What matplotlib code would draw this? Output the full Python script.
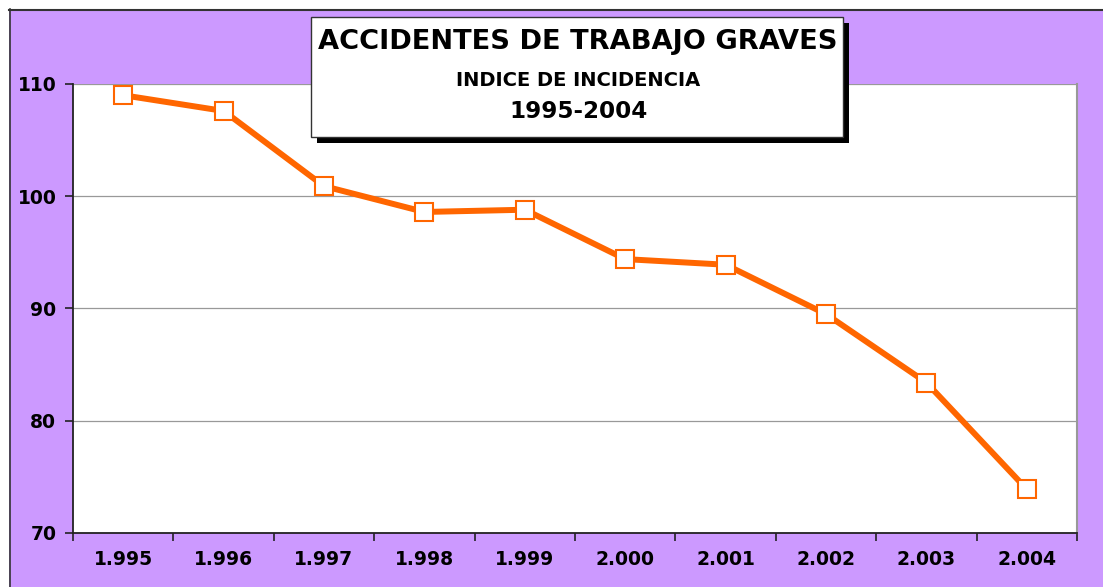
import matplotlib.pyplot as plt
from matplotlib.patches import Rectangle
import numpy as np

# Data
years = ["1.995", "1.996", "1.997", "1.998", "1.999",
         "2.000", "2.001", "2.002", "2.003", "2.004"]
indice = [109.0, 107.6, 100.9, 98.6, 98.8, 94.4, 93.9, 89.5, 83.4, 73.9]
yticks = [70, 80, 90, 100, 110]

purple = "#CC99FF"
orange = "#FF6600"
W, H = 1103, 587

plt.rcParams['font.family'] = ['DejaVu Sans']
plt.rcParams['font.weight'] = 'bold'

fig = plt.figure(figsize=(W / 100, H / 100), dpi=100)
fig.patch.set_facecolor("white")

def fx(px):
    return px / W

def fy(py):
    return 1 - py / H

# purple chart area with dark top/left edge
fig.patches.append(Rectangle((fx(9), 0), 1 - fx(9), fy(9), transform=fig.transFigure,
                             facecolor=purple, edgecolor="none", zorder=-2))
fig.add_artist(plt.Line2D([fx(9), 1], [fy(9.5), fy(9.5)], transform=fig.transFigure,
                          color="#333333", lw=1.5, zorder=-1))
fig.add_artist(plt.Line2D([fx(9.5), fx(9.5)], [0, fy(9)], transform=fig.transFigure,
                          color="#333333", lw=1.2, zorder=-1))

ax = fig.add_axes([fx(73), fy(533), fx(1077) - fx(73), fy(84) - fy(533)])
ax.set_zorder(1)
ax.set_facecolor("white")

x = np.arange(len(years))
ax.plot(x, indice, color=orange, lw=4.3, marker="s", markersize=12.5,
        markerfacecolor="white", markeredgecolor=orange, markeredgewidth=1.5,
        solid_joinstyle="miter", zorder=3)

ax.set_xlim(-0.5, len(years) - 0.5)
ax.set_ylim(70, 110)
ax.set_yticks(yticks)
ax.yaxis.grid(True, color="#999999", lw=0.9)
ax.set_axisbelow(True)

# category ticks between years, labels centred
ax.set_xticks(np.arange(-0.5, len(years)), labels=[""] * (len(years) + 1))
ax.set_xticks(x, labels=years, minor=True)
ax.tick_params(axis="x", which="major", length=6, width=1.2, color="#222222", direction="out")
ax.tick_params(axis="x", which="minor", length=0, pad=12, labelsize=13.5)
ax.tick_params(axis="y", length=6, width=1.2, color="#222222", pad=6, labelsize=13.5)
for lab in ax.get_xticklabels(minor=True) + ax.get_yticklabels():
    lab.set_fontweight("bold")

ax.spines["top"].set_visible(False)
ax.spines["right"].set_color("#999999")
ax.spines["right"].set_linewidth(1.5)
ax.spines["left"].set_color("#222222")
ax.spines["bottom"].set_color("#222222")
ax.spines["left"].set_linewidth(1.3)
ax.spines["bottom"].set_linewidth(1.3)

# title box with shadow
fig.patches.append(Rectangle((fx(317), fy(143)), fx(843) - fx(311), fy(17) - fy(137),
                             transform=fig.transFigure, facecolor="black",
                             edgecolor="none", zorder=5))
fig.patches.append(Rectangle((fx(311), fy(137)), fx(843) - fx(311), fy(17) - fy(137),
                             transform=fig.transFigure, facecolor="white",
                             edgecolor="#333333", lw=1, zorder=6))
fig.text(fx(578), fy(42), "ACCIDENTES DE TRABAJO GRAVES", ha="center", va="center",
         fontsize=19.6, fontweight="bold", zorder=7)
fig.text(fx(578), fy(80), "INDICE DE INCIDENCIA", ha="center", va="center",
         fontsize=14, fontweight="bold", zorder=7)
fig.text(fx(578), fy(111), "1995-2004", ha="center", va="center",
         fontsize=16.6, fontweight="bold", zorder=7)

fig.savefig("out.png", dpi=100, facecolor=fig.get_facecolor())
